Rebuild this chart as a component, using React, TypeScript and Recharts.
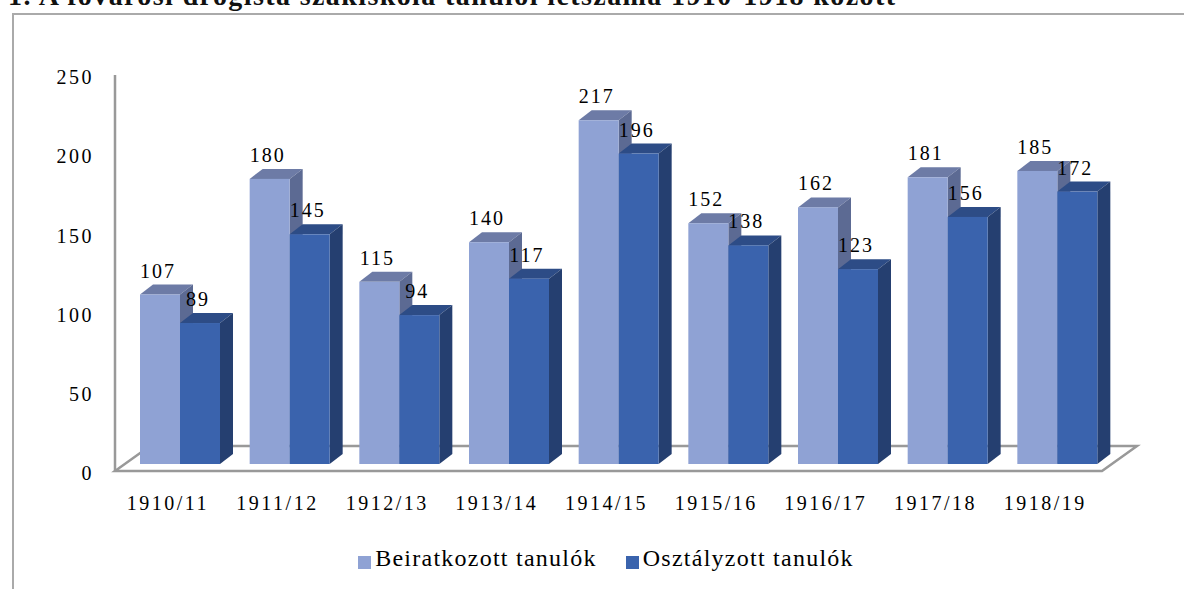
import React from 'react';
import { BarChart, Bar, XAxis, YAxis, Legend, LabelList, usePlotArea } from 'recharts';

const years = ['1910/11', '1911/12', '1912/13', '1913/14', '1914/15', '1915/16', '1916/17', '1917/18', '1918/19'];
const enrolled = [107, 180, 115, 140, 217, 152, 162, 181, 185];
const graded = [89, 145, 94, 117, 196, 138, 123, 156, 172];
const yTicks = [0, 50, 100, 150, 200, 250];

const data = years.map((year, i) => ({ year, enrolled: enrolled[i], graded: graded[i] }));

const FONT = '"Liberation Serif", serif';
const TITLE = '1. A fővárosi drogista szakiskola tanulói létszáma 1910-1918 között';

// fake 3D: bars are pushed back onto the floor, with a top and a side face
const DEPTH_X = 13;
const DEPTH_Y = 10;
const SHIFT_X = 10;
const SHIFT_Y = -7;

const faces: Record<string, { top: string; side: string }> = {
  '#8fa2d4': { top: '#6d7ba6', side: '#5c6a93' },
  '#3a63ad': { top: '#2d4c86', side: '#253f70' },
};

const Bar3D = (props: any) => {
  const { x, y, width, height, fill } = props;
  const l = x + SHIFT_X;
  const t = y + SHIFT_Y;
  const r = l + width;
  const b = t + height;
  const c = faces[fill];
  return (
    <g>
      <polygon points={`${l},${t} ${l + DEPTH_X},${t - DEPTH_Y} ${r + DEPTH_X},${t - DEPTH_Y} ${r},${t}`} fill={c.top} />
      <polygon points={`${r},${t} ${r + DEPTH_X},${t - DEPTH_Y} ${r + DEPTH_X},${b - DEPTH_Y} ${r},${b}`} fill={c.side} />
      <rect x={l} y={t} width={width} height={height} fill={fill} />
    </g>
  );
};

const Floor = () => {
  const area = usePlotArea();
  if (!area) return null;
  const left = area.x;
  const right = area.x + area.width;
  const front = area.y + area.height;
  const back = front - 25;
  return (
    <polygon
      points={`${left},${front} ${left + 35},${back} ${right + 35},${back} ${right},${front}`}
      fill="#fff"
      stroke="#999"
      strokeWidth={2.5}
    />
  );
};

const ValueLabel = (props: any) => {
  const { x, y, width, value } = props;
  return (
    <text
      x={x + SHIFT_X + width / 2 - 2}
      y={y + SHIFT_Y - 24}
      textAnchor="middle"
      dominantBaseline="central"
      fontFamily={FONT}
      fontSize={20}
      letterSpacing={2}
      fill="#000"
    >
      {value}
    </text>
  );
};

const legendText = (value: string) => (
  <span style={{ color: '#000', fontFamily: FONT, fontSize: 24, letterSpacing: 1.25, marginRight: 19 }}>{value}</span>
);

export default function App() {
  return (
    <div style={{ position: 'absolute', left: 0, top: 0, width: 1184, height: 589, overflow: 'hidden', background: '#fff' }}>
      <div
        style={{
          position: 'absolute',
          left: 12,
          top: 13,
          width: 1180,
          height: 600,
          border: '2px solid #aaa',
          boxSizing: 'border-box',
        }}
      />
      <svg width={1184} height={14} style={{ position: 'absolute', left: 0, top: 0 }}>
        <text x={8} y={5} fontFamily={FONT} fontSize={28} fontWeight="bold" fill="#111" textLength={887}>
          {TITLE}
        </text>
      </svg>
      <div style={{ position: 'absolute', left: 0, top: 0 }}>
        <BarChart
          width={1184}
          height={589}
          data={data}
          barSize={40}
          barGap={0}
          margin={{ top: 75, right: 82, bottom: 48, left: 55 }}
        >
          <Floor />
          <XAxis
            dataKey="year"
            axisLine={false}
            tickLine={false}
            tickSize={0}
            tickMargin={25}
            height={43}
            interval={0}
            tick={{ fontFamily: FONT, fontSize: 20, fill: '#000', letterSpacing: 2.5, dx: -2 }}
          />
          <YAxis
            width={60}
            domain={[0, 250]}
            ticks={yTicks}
            tickLine={false}
            tickSize={0}
            tickMargin={21}
            axisLine={{ stroke: '#999', strokeWidth: 2.5 }}
            tick={{ fontFamily: FONT, fontSize: 20, fill: '#000', letterSpacing: 2.5, dy: 2 }}
          />
          <Legend
            verticalAlign="bottom"
            iconType="square"
            iconSize={13}
            formatter={legendText}
            wrapperStyle={{ bottom: 17, left: 97 }}
          />
          <Bar dataKey="enrolled" name="Beiratkozott tanulók" fill="#8fa2d4" shape={Bar3D} isAnimationActive={false}>
            <LabelList dataKey="enrolled" content={ValueLabel} />
          </Bar>
          <Bar dataKey="graded" name="Osztályzott tanulók" fill="#3a63ad" shape={Bar3D} isAnimationActive={false}>
            <LabelList dataKey="graded" content={ValueLabel} />
          </Bar>
        </BarChart>
      </div>
    </div>
  );
}
